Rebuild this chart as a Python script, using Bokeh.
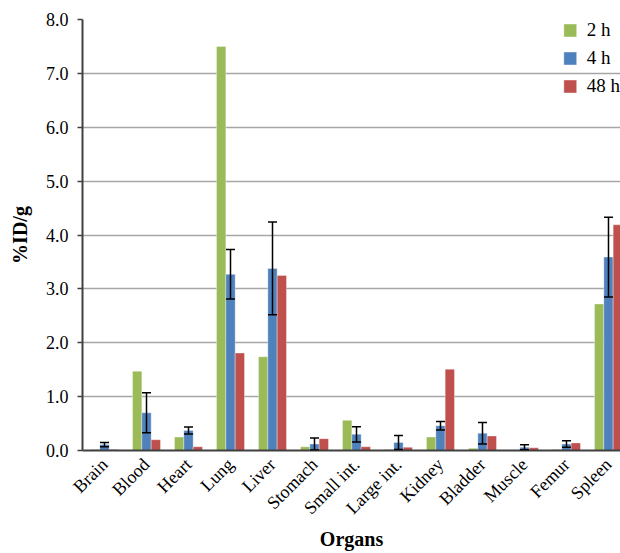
import numpy as np
from bokeh.plotting import figure
from bokeh.models import (ColumnDataSource, Whisker, Legend, LegendItem, FixedTicker,
                          NumeralTickFormatter, Range1d, TeeHead)
from bokeh.embed import file_html
from bokeh.resources import INLINE

organs = ["Brain", "Blood", "Heart", "Lung", "Liver", "Stomach", "Small int.",
          "Large int.", "Kidney", "Bladder", "Muscle", "Femur", "Spleen"]
h2 = [0.02, 1.47, 0.25, 7.50, 1.74, 0.07, 0.56, 0.02, 0.25, 0.04, 0.01, 0.02, 2.72]
h4 = [0.11, 0.70, 0.37, 3.27, 3.38, 0.12, 0.30, 0.15, 0.46, 0.32, 0.06, 0.12, 3.59]
h4_err = [0.04, 0.37, 0.065, 0.46, 0.86, 0.11, 0.14, 0.13, 0.08, 0.20, 0.045, 0.06, 0.74]
h48 = [0.02, 0.20, 0.07, 1.81, 3.25, 0.22, 0.07, 0.06, 1.51, 0.27, 0.05, 0.14, 4.19]
series_names = ["2 h", "4 h", "48 h"]
colors = ["#9BBB59", "#4F81BD", "#C0504D"]
y_ticks = [0, 1, 2, 3, 4, 5, 6, 7, 8]

FONT = "Liberation Serif"
BW = 0.222

idx = np.arange(len(organs))
src = ColumnDataSource(dict(
    x=idx, h2=h2, h4=h4, h48=h48,
    upper=np.array(h4) + np.array(h4_err),
    lower=np.array(h4) - np.array(h4_err),
))

p = figure(width=620, height=553, output_backend="svg", toolbar_location=None,
           x_range=Range1d(-0.524, 12.286), y_range=Range1d(0, 8),
           min_border_left=82, min_border_right=0, min_border_top=19, min_border_bottom=103)
p.outline_line_color = None
p.background_fill_color = "white"

rs = []
for off, col, color in zip([-BW, 0, BW], ["h2", "h4", "h48"], colors):
    r = p.vbar(x=idx + off, top=src.data[col], width=BW, bottom=0,
               fill_color=color, line_color="white", line_alpha=0.35, line_width=1)
    rs.append(r)

w = Whisker(source=src, base="x", upper="upper", lower="lower",
            line_color="black", line_width=1.5, level="overlay",
            upper_head=TeeHead(size=9, line_color="black", line_width=1.5),
            lower_head=TeeHead(size=9, line_color="black", line_width=1.5))
p.add_layout(w)

# axes
p.xaxis.ticker = FixedTicker(ticks=list(idx))
p.xaxis.major_label_overrides = {int(i): n for i, n in zip(idx, organs)}
p.xaxis.major_label_orientation = np.pi / 4
p.xaxis.major_tick_line_color = None
p.xaxis.minor_tick_line_color = None
p.xaxis.axis_line_color = "#404040"
p.xaxis.axis_line_width = 2
p.xaxis.major_label_text_font = FONT
p.xaxis.major_label_text_font_size = "18px"
p.xaxis.major_label_text_color = "black"
p.xaxis.major_label_standoff = 5
p.xaxis.axis_label = "Organs"
p.xaxis.axis_label_text_font = FONT
p.xaxis.axis_label_text_font_style = "bold"
p.xaxis.axis_label_text_font_size = "20px"
p.xaxis.axis_label_text_color = "black"
p.xaxis.axis_label_standoff = 0

p.yaxis.ticker = FixedTicker(ticks=y_ticks)
p.yaxis.formatter = NumeralTickFormatter(format="0.0")
p.yaxis.minor_tick_line_color = None
p.yaxis.major_tick_in = 0
p.yaxis.major_tick_out = 5
p.yaxis.major_tick_line_color = "#404040"
p.yaxis.major_tick_line_width = 1.5
p.yaxis.axis_line_color = "#404040"
p.yaxis.axis_line_width = 2
p.yaxis.major_label_text_font = FONT
p.yaxis.major_label_text_font_size = "18px"
p.yaxis.major_label_text_color = "black"
p.yaxis.major_label_standoff = 9
p.yaxis.axis_label = "%ID/g"
p.yaxis.axis_label_text_font = FONT
p.yaxis.axis_label_text_font_style = "bold"
p.yaxis.axis_label_text_font_size = "20px"
p.yaxis.axis_label_text_color = "black"
p.yaxis.axis_label_standoff = 12

p.xgrid.grid_line_color = None
p.ygrid.grid_line_color = "#A6A6A6"
p.ygrid.grid_line_width = 1.5

legend = Legend(items=[LegendItem(label=n, renderers=[r]) for n, r in zip(series_names, rs)],
                location="top_right", glyph_width=16, glyph_height=16, label_height=20,
                spacing=6, padding=4, margin=0, label_standoff=9,
                label_text_font=FONT, label_text_font_size="19px", label_text_color="black",
                border_line_color=None, background_fill_alpha=0)
p.add_layout(legend)

open("out.html", "w").write(file_html(p, INLINE))
